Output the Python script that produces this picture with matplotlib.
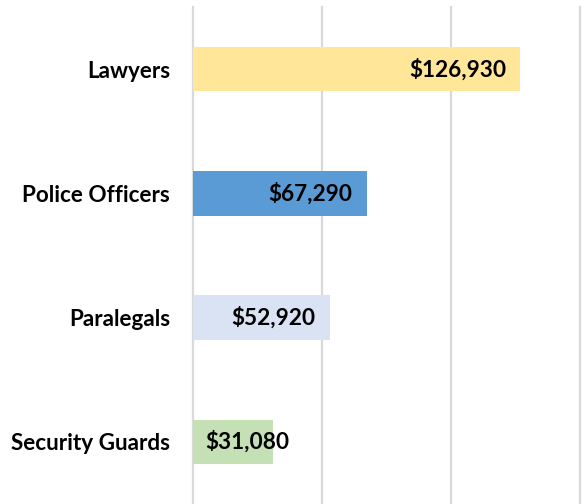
import matplotlib
matplotlib.use("Agg")
from matplotlib import pyplot as plt

# chart data
occupations = ["Lawyers", "Police Officers", "Paralegals", "Security Guards"]
salaries = [126930, 67290, 52920, 31080]
bar_colors = ["#FFE699", "#5B9BD5", "#DAE3F3", "#C5E0B4"]
grid_values = [0, 50000, 100000, 150000]


def main() -> None:
    plt.rcParams["font.family"] = ["Lato", "DejaVu Sans"]

    fig = plt.figure(figsize=(5.87, 5.04), dpi=100)
    ax = fig.add_axes([193 / 587, 0.0, 387 / 587, 1 - 7 / 504])

    positions = list(range(len(occupations)))
    ax.barh(positions, salaries, height=0.36, color=bar_colors, zorder=2)

    for x in grid_values:
        ax.axvline(x, color="#D9D9D9", linewidth=1.6, zorder=1, clip_on=False)

    ax.set_xlim(0, 150000)
    ax.set_ylim(len(occupations) - 0.5, -0.5)

    ax.set_yticks(positions)
    ax.set_yticklabels(occupations, fontsize=16.2, fontweight="bold")
    ax.tick_params(axis="y", length=0, pad=16.5)
    ax.set_xticks([])
    for spine in ax.spines.values():
        spine.set_visible(False)

    for pos, value in zip(positions, salaries):
        label = f"${value:,}"
        if value > 40000:
            ax.annotate(label, (value, pos), xytext=(-10, 0),
                        textcoords="offset points", ha="right", va="center",
                        fontsize=16.3, fontweight="bold", zorder=3)
        else:
            ax.annotate(label, (0, pos), xytext=(9, 0),
                        textcoords="offset points", ha="left", va="center",
                        fontsize=16.3, fontweight="bold", zorder=3)

    fig.savefig("out.png", dpi=100)
    plt.close(fig)


if __name__ == "__main__":
    main()
